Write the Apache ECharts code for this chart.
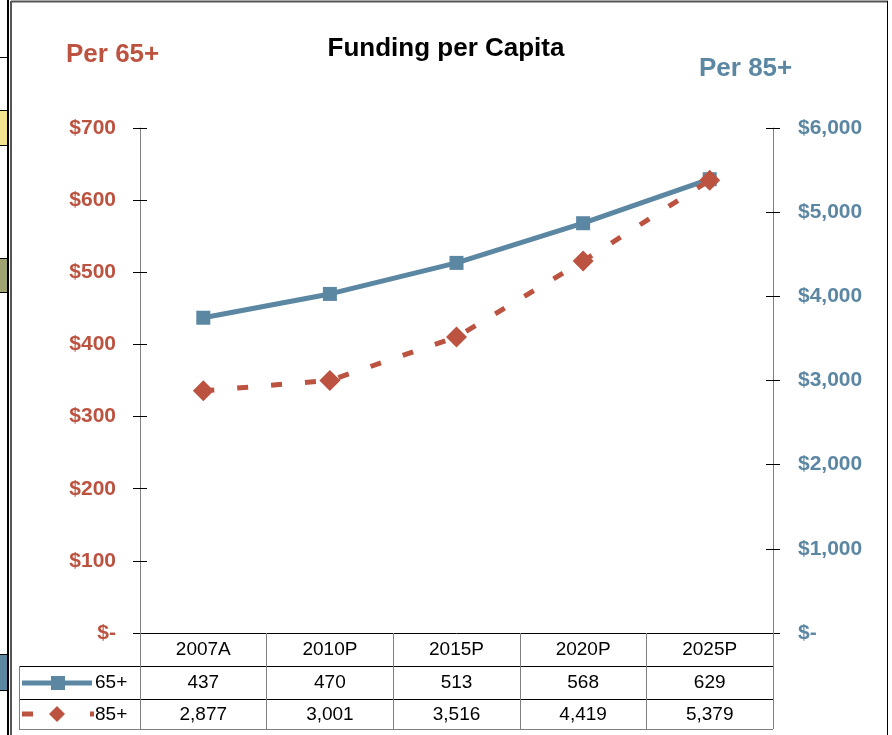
<!DOCTYPE html>
<html>
<head>
<meta charset="utf-8">
<script src="https://cdn.jsdelivr.net/npm/echarts@6/dist/echarts.min.js"></script>
<style>
  html, body { margin: 0; padding: 0; background: #fff; }
  #chart { width: 892px; height: 735px; }
</style>
</head>
<body>
<div id="chart"></div>
<script>
// data
const categories = ['2007A', '2010P', '2015P', '2020P', '2025P']
const per65 = [437, 470, 513, 568, 629]
const per85 = [2877, 3001, 3516, 4419, 5379]
const leftTicks = { min: 0, max: 700, step: 100 }
const rightTicks = { min: 0, max: 6000, step: 1000 }

const RED = '#BC5340'
const BLUE = '#5B87A3'
const FONT = 'Liberation Sans, Arial, sans-serif'

const fmtNum = v => v.toLocaleString('en-US')
const fmtMoney = v => (v === 0 ? '$-' : '$' + fmtNum(v))

const chart = echarts.init(document.getElementById('chart'))

// grid bounds
const G = { left: 140, right: 773, top: 128, bottom: 633 }
const rowH = 33
const tableH = 96

const option = {
  animation: false,
  textStyle: { fontFamily: FONT },
  title: [
    { text: 'Funding per Capita', left: 'center', top: 31,
      textStyle: { fontSize: 26, fontWeight: 'bold', color: '#000', fontFamily: FONT } },
    { text: 'Per 65+', left: 61, top: 37,
      textStyle: { fontSize: 26, fontWeight: 'bold', color: RED, fontFamily: FONT } },
    { text: 'Per 85+', left: 694, top: 51,
      textStyle: { fontSize: 26, fontWeight: 'bold', color: BLUE, fontFamily: FONT } }
  ],
  grid: { left: G.left, right: 892 - G.right, top: G.top, bottom: 735 - G.bottom, containLabel: false },
  xAxis: [
    {
      type: 'category', data: categories, boundaryGap: true, position: 'bottom',
      axisLine: { lineStyle: { color: '#000', width: 1 } },
      axisTick: { show: true, length: tableH, lineStyle: { color: '#808080' } },
      axisLabel: { color: '#000', fontSize: 19, margin: 7, fontFamily: FONT }
    },
    {
      type: 'category', data: categories, boundaryGap: true, position: 'bottom', offset: rowH,
      axisLine: { show: false }, axisTick: { show: false },
      axisLabel: { color: '#000', fontSize: 19, margin: 7, fontFamily: FONT,
        formatter: (v, i) => fmtNum(per65[i]) }
    },
    {
      type: 'category', data: categories, boundaryGap: true, position: 'bottom', offset: rowH * 2,
      axisLine: { show: false }, axisTick: { show: false },
      axisLabel: { color: '#000', fontSize: 19, margin: 6, fontFamily: FONT,
        formatter: (v, i) => fmtNum(per85[i]) }
    }
  ],
  yAxis: [
    {
      type: 'value', position: 'left', min: leftTicks.min, max: leftTicks.max, interval: leftTicks.step,
      axisLine: { show: true, lineStyle: { color: '#808080' } },
      axisTick: { show: true, length: 7, lineStyle: { color: '#000' } },
      splitLine: { show: false },
      axisLabel: { color: RED, fontSize: 21, fontWeight: 'bold', margin: 24, formatter: fmtMoney, fontFamily: FONT }
    },
    {
      type: 'value', position: 'left', min: leftTicks.min, max: leftTicks.max, interval: leftTicks.step,
      axisLine: { show: false },
      axisTick: { show: true, inside: true, length: 7, lineStyle: { color: '#000' } },
      splitLine: { show: false }, axisLabel: { show: false }
    },
    {
      type: 'value', position: 'right', min: rightTicks.min, max: rightTicks.max, interval: rightTicks.step,
      axisLine: { show: true, lineStyle: { color: '#808080' } },
      axisTick: { show: true, length: 7, lineStyle: { color: '#000' } },
      splitLine: { show: false },
      axisLabel: { color: BLUE, fontSize: 21, fontWeight: 'bold', margin: 25, formatter: fmtMoney, fontFamily: FONT }
    },
    {
      type: 'value', position: 'right', min: rightTicks.min, max: rightTicks.max, interval: rightTicks.step,
      axisLine: { show: false },
      axisTick: { show: true, inside: true, length: 7, lineStyle: { color: '#000' } },
      splitLine: { show: false }, axisLabel: { show: false }
    }
  ],
  series: [
    {
      name: '65+', type: 'line', data: per65, xAxisIndex: 0, yAxisIndex: 0,
      symbol: 'rect', symbolSize: 14,
      lineStyle: { color: BLUE, width: 5 },
      itemStyle: { color: BLUE },
      z: 3
    },
    {
      name: '85+', type: 'line', data: per85, xAxisIndex: 0, yAxisIndex: 2,
      symbol: 'diamond', symbolSize: 21,
      lineStyle: { color: RED, width: 5, type: [11, 23] },
      itemStyle: { color: RED },
      z: 4
    }
  ]
}

// table frame + legend keys, plus page decorations
const y1 = G.bottom + rowH, y2 = G.bottom + rowH * 2, y3 = G.bottom + tableH
const tx = 19
const line = (x1, ya, x2, yb, color, w) => ({
  type: 'line', shape: { x1, y1: ya, x2, y2: yb }, style: { stroke: color || '#000', lineWidth: w || 1 }, silent: true
})
option.graphic = [
  // worksheet strip and chart border
  { type: 'rect', shape: { x: 0, y: 111, width: 7, height: 34 }, style: { fill: '#F2E38E' } },
  { type: 'rect', shape: { x: 0, y: 259, width: 7, height: 33 }, style: { fill: '#9FA370' } },
  { type: 'rect', shape: { x: 0, y: 655, width: 7, height: 35 }, style: { fill: BLUE } },
  line(0, 57.5, 7, 57.5), line(0, 110.5, 7, 110.5), line(0, 145.5, 7, 145.5),
  line(0, 258.5, 7, 258.5), line(0, 292.5, 7, 292.5), line(0, 654.5, 7, 654.5), line(0, 690.5, 7, 690.5),
  line(8, 0, 8, 735, '#000', 2),
  line(11, 1.5, 888, 1.5, '#555', 2),
  line(11, 1, 11, 735, '#555', 2),
  line(887.5, 1, 887.5, 735, '#000', 1),
  // table rows
  line(tx, y1 + 0.5, G.right, y1 + 0.5),
  line(tx, y2 + 0.5, G.right, y2 + 0.5),
  line(tx, y3 + 0.5, G.right, y3 + 0.5, '#808080'),
  line(tx + 0.5, y1, tx + 0.5, y3, '#808080'),
  // legend key 65+
  line(22, y1 + 17, 92, y1 + 17, BLUE, 5),
  { type: 'rect', shape: { x: 51, y: y1 + 10, width: 14, height: 14 }, style: { fill: BLUE } },
  { type: 'text', style: { text: '65+', x: 95, y: y1 + 17, fill: '#000', font: '19px ' + FONT, textVerticalAlign: 'middle' } },
  // legend key 85+
  line(22, y2 + 15, 33, y2 + 15, RED, 5),
  line(90, y2 + 15, 94, y2 + 15, RED, 5),
  { type: 'polygon', shape: { points: [[57, y2 + 7], [65, y2 + 15], [57, y2 + 23], [49, y2 + 15]] }, style: { fill: RED } },
  { type: 'text', style: { text: '85+', x: 95, y: y2 + 16, fill: '#000', font: '19px ' + FONT, textVerticalAlign: 'middle' } }
]

chart.setOption(option)
</script>
</body>
</html>
